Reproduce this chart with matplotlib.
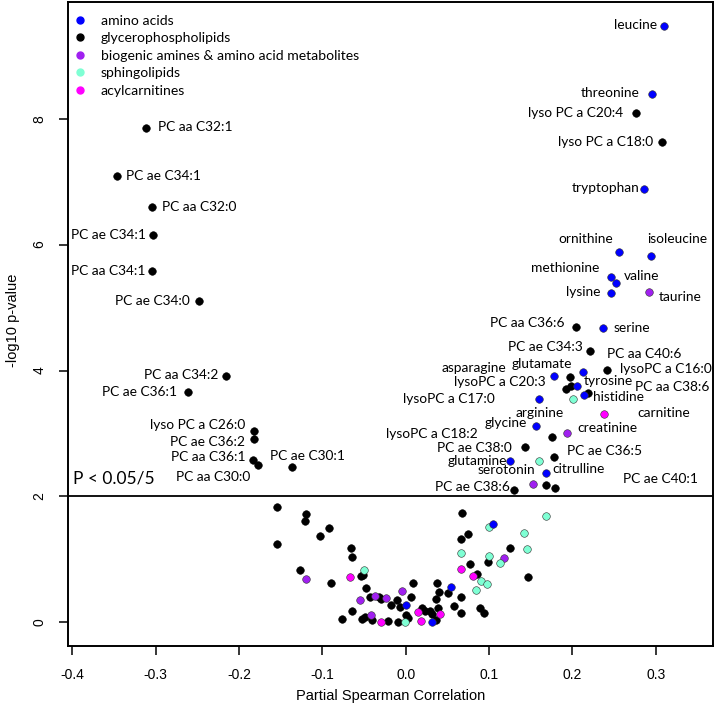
import matplotlib
matplotlib.use("Agg")
import matplotlib.pyplot as plt
from matplotlib.lines import Line2D

# ---- data: partial spearman correlation (x) vs -log10 p (y), per class ----
amino_x = [0.3097, 0.2950, 0.2860, 0.2554, 0.2945, 0.2462, 0.2518, 0.2458, 0.2362,
           0.2130, 0.1780, 0.2054, 0.2138, 0.1600, 0.1562, 0.1250, 0.1679,
           0.1050, 0.0543, 0.0000, 0.0319]
amino_y = [9.48, 8.39, 6.88, 5.89, 5.82, 5.49, 5.39, 5.23, 4.67,
           3.98, 3.92, 3.75, 3.61, 3.55, 3.12, 2.56, 2.38,
           1.562, 0.566, 0.275, 0.000]

gpl_x = [-0.3120, -0.3465, -0.3040, -0.3030, -0.3040, -0.2475, -0.2155, -0.2614,
         -0.1815, -0.1815, -0.1827, -0.1775, -0.1367,
         0.2760, 0.3077, 0.2038, 0.2206, 0.2417, 0.1966, 0.1920, 0.1980, 0.2190,
         0.1750, 0.1434, 0.1778, 0.1679, 0.1790, 0.1299,
         -0.1543, -0.1199, -0.1207, -0.1540, -0.0916, -0.1031, -0.0656, -0.0647,
         -0.1267, -0.0892, -0.0540, -0.0508, -0.0472, -0.0428, -0.0320, -0.0300,
         -0.0176, -0.0108, -0.0068, 0.0091, 0.0067, -0.0647, -0.0760, -0.0520,
         -0.0488, -0.0408, -0.0216, -0.0096, 0.0000, 0.0031, 0.0199, 0.0231,
         0.0288, 0.0312, 0.0384, 0.0360, 0.0372, 0.0399, 0.0360, 0.0511,
         0.0583, 0.0667, 0.0667, 0.0675, 0.0751, 0.0663, 0.0767, 0.0851,
         0.0891, 0.0939, 0.0990, 0.1254, 0.1463]
gpl_y = [7.86, 7.09, 6.60, 6.15, 5.58, 5.11, 3.92, 3.66,
         3.04, 2.91, 2.58, 2.50, 2.46,
         8.09, 7.63, 4.69, 4.31, 4.01, 3.89, 3.71, 3.75, 3.65,
         2.95, 2.79, 2.63, 2.18, 2.14, 2.10,
         1.836, 1.720, 1.614, 1.249, 1.493, 1.376, 1.176, 1.033,
         0.826, 0.620, 0.731, 0.751, 0.550, 0.407, 0.407, 0.370,
         0.270, 0.354, 0.238, 0.624, 0.397, 0.180, 0.057, 0.057,
         0.089, 0.037, 0.021, 0.010, 0.116, 0.073, 0.222, 0.180,
         0.180, 0.132, 0.222, 0.037, 0.620, 0.486, 0.375, 0.470,
         0.254, 0.397, 0.143, 1.736, 1.398, 1.319, 0.926, 0.763,
         0.232, 0.153, 0.958, 1.185, 0.724]

biogenic_x = [0.2914, 0.1930, 0.1523, -0.1195, -0.0548, -0.0368, -0.0233, -0.0041,
              -0.0412, 0.1182]
biogenic_y = [5.24, 3.00, 2.20, 0.683, 0.354, 0.418, 0.391, 0.502, 0.116, 1.017]

sphingo_x = [0.2006, 0.1600, -0.0496, 0.0667, 0.1002, 0.1002, 0.1127, 0.0899,
             0.0975, 0.0843, 0.1422, 0.1451, 0.1682, -0.0012]
sphingo_y = [3.55, 2.56, 0.831, 1.096, 1.509, 1.053, 0.947, 0.656,
             0.613, 0.513, 1.423, 1.160, 1.689, 0.010]

acyl_x = [0.2380, -0.0668, 0.0659, 0.0811, 0.0151, 0.0411, -0.0293, 0.0180]
acyl_y = [3.31, 0.715, 0.851, 0.736, 0.159, 0.132, 0.005, 0.025]

class_names = ["amino acids", "glycerophospholipids",
               "biogenic amines & amino acid metabolites",
               "sphingolipids", "acylcarnitines"]
class_colors = ["#0000FF", "#000000", "#A020F0", "#7FFFD4", "#FF00FF"]

# point labels, text to the right of the given x
labels_left = [
    ("PC aa C32:1", -0.2968, 7.865), ("PC ae C34:1", -0.3354, 7.09),
    ("PC aa C32:0", -0.2922, 6.60), ("PC ae C30:1", -0.1627, 2.641),
    ("ornithine", 0.1826, 6.089), ("isoleucine", 0.2893, 6.089),
    ("methionine", 0.1502, 5.628), ("valine", 0.2617, 5.501),
    ("taurine", 0.3037, 5.168), ("serine", 0.2497, 4.676),
    ("PC aa C40:6", 0.2414, 4.262), ("lysoPC a C16:0", 0.2570, 4.024),
    ("glutamate", 0.1274, 4.103), ("tyrosine", 0.2137, 3.833),
    ("PC aa C38:6", 0.2749, 3.738), ("histidine", 0.2246, 3.579),
    ("arginine", 0.1323, 3.325), ("carnitine", 0.2774, 3.325),
    ("creatinine", 0.2055, 3.087), ("PC ae C36:5", 0.1934, 2.721),
    ("citrulline", 0.1754, 2.435), ("PC ae C40:1", 0.2606, 2.276),
]
# point labels, text ending at the given x
labels_right = [
    ("PC ae C34:1", -0.3111, 6.15), ("PC aa C34:1", -0.3124, 5.58),
    ("PC ae C34:0", -0.2586, 5.10), ("PC aa C34:2", -0.2248, 3.93),
    ("PC ae C36:1", -0.2740, 3.66), ("lyso PC a C26:0", -0.1924, 3.134),
    ("PC ae C36:2", -0.1924, 2.864), ("PC aa C36:1", -0.1924, 2.625),
    ("PC aa C30:0", -0.1867, 2.308),
    ("leucine", 0.3013, 9.49), ("threonine", 0.2809, 8.41),
    ("lyso PC a C20:4", 0.2606, 8.09), ("lyso PC a C18:0", 0.2965, 7.63),
    ("tryptophan", 0.2809, 6.90), ("lysine", 0.2330, 5.247),
    ("PC aa C36:6", 0.1910, 4.755), ("PC ae C34:3", 0.2118, 4.373),
    ("asparagine", 0.1203, 4.040), ("lysoPC a C20:3", 0.1682, 3.817),
    ("lysoPC a C17:0", 0.1071, 3.548), ("glycine", 0.1454, 3.166),
    ("lysoPC a C18:2", 0.0867, 2.991), ("PC ae C38:0", 0.1275, 2.769),
    ("glutamine", 0.1215, 2.562), ("serotonin", 0.1550, 2.419),
    ("PC ae C38:6", 0.1251, 2.149),
]

threshold = 2.0
label_font = ["Lato", "DejaVu Sans"]
axis_font = ["Liberation Sans", "DejaVu Sans"]

fig = plt.figure(figsize=(7.16, 7.08), dpi=100)
ax = fig.add_axes([68 / 716, 62 / 708, 645 / 716, 644 / 708])

series = [(amino_x, amino_y), (gpl_x, gpl_y), (biogenic_x, biogenic_y),
          (sphingo_x, sphingo_y), (acyl_x, acyl_y)]
draw_order = [1, 2, 3, 4, 0]
for i in draw_order:
    xs, ys = series[i]
    edge = "#000000" if class_colors[i] == "#000000" else "#333333"
    ax.scatter(xs, ys, s=30, c=class_colors[i], edgecolors=edge,
               linewidths=0.4, zorder=3)

ax.axhline(threshold, color="black", lw=1.3, zorder=2)

for txt, x, y in labels_left:
    ax.text(x, y, txt, ha="left", va="center", fontsize=9.9, family=label_font)
for txt, x, y in labels_right:
    ax.text(x, y, txt, ha="right", va="center", fontsize=9.9, family=label_font)

ax.text(-0.399, 2.29, "P < 0.05/5", ha="left", va="center", fontsize=12.5,
        family=label_font)

ax.set_xlim(-0.405, 0.3685)
ax.set_ylim(-0.376, 9.854)
ax.set_xticks([-0.4, -0.3, -0.2, -0.1, 0.0, 0.1, 0.2, 0.3])
ax.set_xticklabels(["-0.4", "-0.3", "-0.2", "-0.1", "0.0", "0.1", "0.2", "0.3"])
ax.set_yticks([0, 2, 4, 6, 8])
ax.tick_params(direction="out", length=6.5, width=1.1, labelsize=10, pad=9)
for lab in ax.get_xticklabels() + ax.get_yticklabels():
    lab.set_family(axis_font)
for lab in ax.get_yticklabels():
    lab.set_rotation(90)
    lab.set_va("center")
for sp in ax.spines.values():
    sp.set_linewidth(1.4)

fig.text(390.5 / 716, 1 - 696 / 708, "Partial Spearman Correlation",
         ha="center", va="center", fontsize=10.5, family=axis_font)
fig.text(13 / 716, 1 - 320 / 708, "-log10 p-value", rotation=90,
         ha="center", va="center", fontsize=10.5, family=axis_font)

handles = [Line2D([], [], ls="none", marker="o", markersize=5,
                  markerfacecolor=c, markeredgecolor=c) for c in class_colors]
ax.legend(handles, class_names, loc="upper left",
          bbox_to_anchor=(-0.0015, 0.9891), borderaxespad=0.0,
          frameon=False, prop={"family": label_font, "size": 10.1},
          handlelength=1.0, handletextpad=1.0,
          borderpad=0.4, labelspacing=0.39)

fig.savefig("out.png", dpi=100)
